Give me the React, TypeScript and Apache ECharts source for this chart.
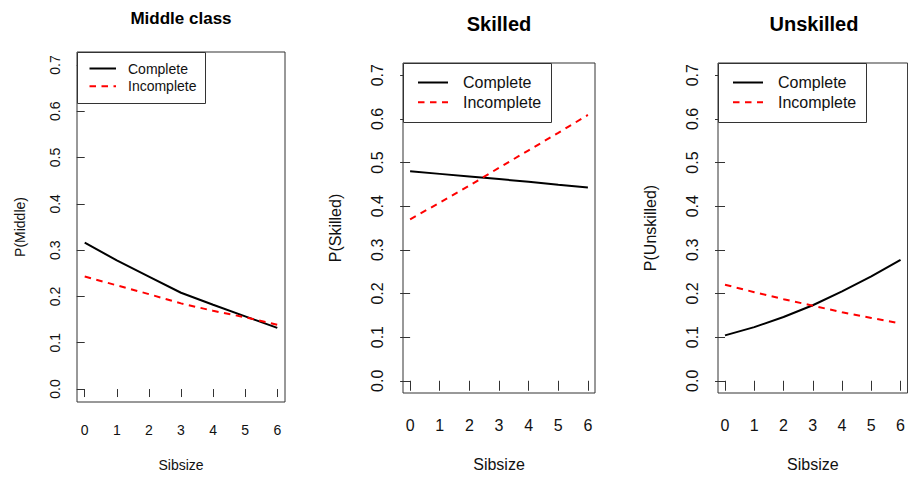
import React, { useEffect, useRef } from "react";
import * as echarts from "echarts";

// ---- data ----
const sibsize = [0, 1, 2, 3, 4, 5, 6];
const yTicks = [0, 0.1, 0.2, 0.3, 0.4, 0.5, 0.6, 0.7];
const seriesNames = ["Complete", "Incomplete"];
const panelTitles = ["Middle class", "Skilled", "Unskilled"];
const yNames = ["P(Middle)", "P(Skilled)", "P(Unskilled)"];
const xName = "Sibsize";

const middleComplete = [0.316, 0.278, 0.243, 0.208, 0.182, 0.157, 0.132];
const middleIncomplete = [0.243, 0.224, 0.205, 0.185, 0.169, 0.155, 0.139];
const skilledComplete = [0.48, 0.474, 0.468, 0.462, 0.456, 0.449, 0.443];
const skilledIncomplete = [0.37, 0.408, 0.447, 0.488, 0.528, 0.568, 0.609];
const unskilledComplete = [0.104, 0.123, 0.146, 0.173, 0.205, 0.239, 0.277];
const unskilledIncomplete = [0.22, 0.203, 0.187, 0.172, 0.157, 0.144, 0.131];

const panelData = [
  [middleComplete, middleIncomplete],
  [skilledComplete, skilledIncomplete],
  [unskilledComplete, unskilledIncomplete],
];

// ---- layout ----
const FONT = "'Liberation Sans', Arial, sans-serif";
const DASH = [6.5, 5.5];
const layout = [
  { left: 77, top: 52, width: 208, height: 357, fs: 14, tfs: 17, titleY: 18.3, tick: 8, xMargin: 21, yMargin: 15, yGap: 50, xGap: 56,
    lgW: 128, lgH: 51, lgLine0: 12.5, lgLine1: 39, lgText: 51, lgRow0: 16.5, lgRow1: 34.2 },
  { left: 403, top: 63, width: 192, height: 331, fs: 16, tfs: 20, titleY: 23.8, tick: 10, xMargin: 24, yMargin: 18, yGap: 59.5, xGap: 63,
    lgW: 148, lgH: 59, lgLine0: 15, lgLine1: 45, lgText: 60, lgRow0: 19.5, lgRow1: 39.2 },
  { left: 718, top: 63, width: 192, height: 331, fs: 16, tfs: 20, titleY: 23.8, tick: 10, xMargin: 24, yMargin: 18, yGap: 59.5, xGap: 63,
    lgW: 148, lgH: 59, lgLine0: 15, lgLine1: 45, lgText: 60, lgRow0: 19.5, lgRow1: 39.2 },
];

const TEXT = "#111";
const BOX = "#333";

export default function App() {
  const ref = useRef<HTMLDivElement>(null);
  useEffect(() => {
    if (!ref.current) return;
    const chart = echarts.init(ref.current, null, { renderer: "svg" });

    const grid = layout.map((p) => ({
      left: p.left, top: p.top, width: p.width, height: p.height,
      show: true, borderColor: BOX, borderWidth: 1, backgroundColor: "transparent",
      containLabel: false,
    }));

    const xAxis = layout.map((p, i) => ({
      type: "value", gridIndex: i, min: -0.24, max: 6.24,
      axisLine: { show: false },
      splitLine: { show: false },
      axisTick: { show: true, inside: false, length: p.tick, customValues: sibsize, lineStyle: { color: BOX, width: 1 } },
      axisLabel: { show: true, customValues: sibsize, fontSize: p.fs, fontFamily: FONT, color: TEXT, margin: p.xMargin,
        formatter: (v: number) => String(Math.round(v)) },
      name: xName, nameLocation: "middle", nameGap: p.xGap,
      nameTextStyle: { fontSize: p.fs, fontFamily: FONT, color: TEXT },
    }));

    const yAxis = layout.map((p, i) => ({
      type: "value", gridIndex: i, min: -0.028, max: 0.728,
      axisLine: { show: false },
      splitLine: { show: false },
      axisTick: { show: true, inside: false, length: p.tick, customValues: yTicks, lineStyle: { color: BOX, width: 1 } },
      axisLabel: { show: true, customValues: yTicks, rotate: 90, fontSize: p.fs, fontFamily: FONT, color: TEXT, margin: p.yMargin,
        formatter: (v: number) => v.toFixed(1) },
      name: yNames[i], nameLocation: "middle", nameGap: p.yGap, nameRotate: 90,
      nameTextStyle: { fontSize: p.fs, fontFamily: FONT, color: TEXT },
    }));

    const series: any[] = [];
    panelData.forEach((pair, i) => {
      pair.forEach((vals, k) => {
        series.push({
          type: "line", name: seriesNames[k], xAxisIndex: i, yAxisIndex: i,
          data: sibsize.map((x, j) => [x, vals[j]]),
          symbol: "none", showSymbol: false, smooth: false,
          lineStyle: k === 0 ? { color: "#000", width: 2, type: "solid" } : { color: "#ff0000", width: 2, type: DASH },
          silent: true, z: 2,
        });
      });
    });

    const graphic: any[] = [];
    layout.forEach((p, i) => {
      graphic.push({
        type: "text", x: p.left + p.width / 2, y: p.titleY, z: 20,
        style: { text: panelTitles[i], fontSize: p.tfs, fontWeight: "bold", fontFamily: FONT, fill: "#000", align: "center", verticalAlign: "middle" },
      });
      const lx = p.left, ly = p.top;
      graphic.push({
        type: "rect", z: 20,
        shape: { x: lx + 0.5, y: ly + 0.5, width: p.lgW, height: p.lgH },
        style: { fill: "#fff", stroke: BOX, lineWidth: 1 },
      });
      graphic.push({
        type: "line", z: 21,
        shape: { x1: lx + p.lgLine0, y1: ly + p.lgRow0, x2: lx + p.lgLine1, y2: ly + p.lgRow0 },
        style: { stroke: "#000", lineWidth: 2 },
      });
      graphic.push({
        type: "line", z: 21,
        shape: { x1: lx + p.lgLine0, y1: ly + p.lgRow1, x2: lx + p.lgLine1, y2: ly + p.lgRow1 },
        style: { stroke: "#ff0000", lineWidth: 2, lineDash: DASH },
      });
      graphic.push({
        type: "text", z: 21, x: lx + p.lgText, y: ly + p.lgRow0,
        style: { text: seriesNames[0], fontSize: p.fs, fontFamily: FONT, fill: TEXT, align: "left", verticalAlign: "middle" },
      });
      graphic.push({
        type: "text", z: 21, x: lx + p.lgText, y: ly + p.lgRow1,
        style: { text: seriesNames[1], fontSize: p.fs, fontFamily: FONT, fill: TEXT, align: "left", verticalAlign: "middle" },
      });
    });

    chart.setOption({
      animation: false,
      backgroundColor: "#fff",
      grid, xAxis, yAxis, series, graphic,
    });
    return () => chart.dispose();
  }, []);

  return (
    <div
      ref={ref}
      style={{ position: "fixed", left: 0, top: 0, width: 908, height: 477, background: "#fff" }}
    />
  );
}
